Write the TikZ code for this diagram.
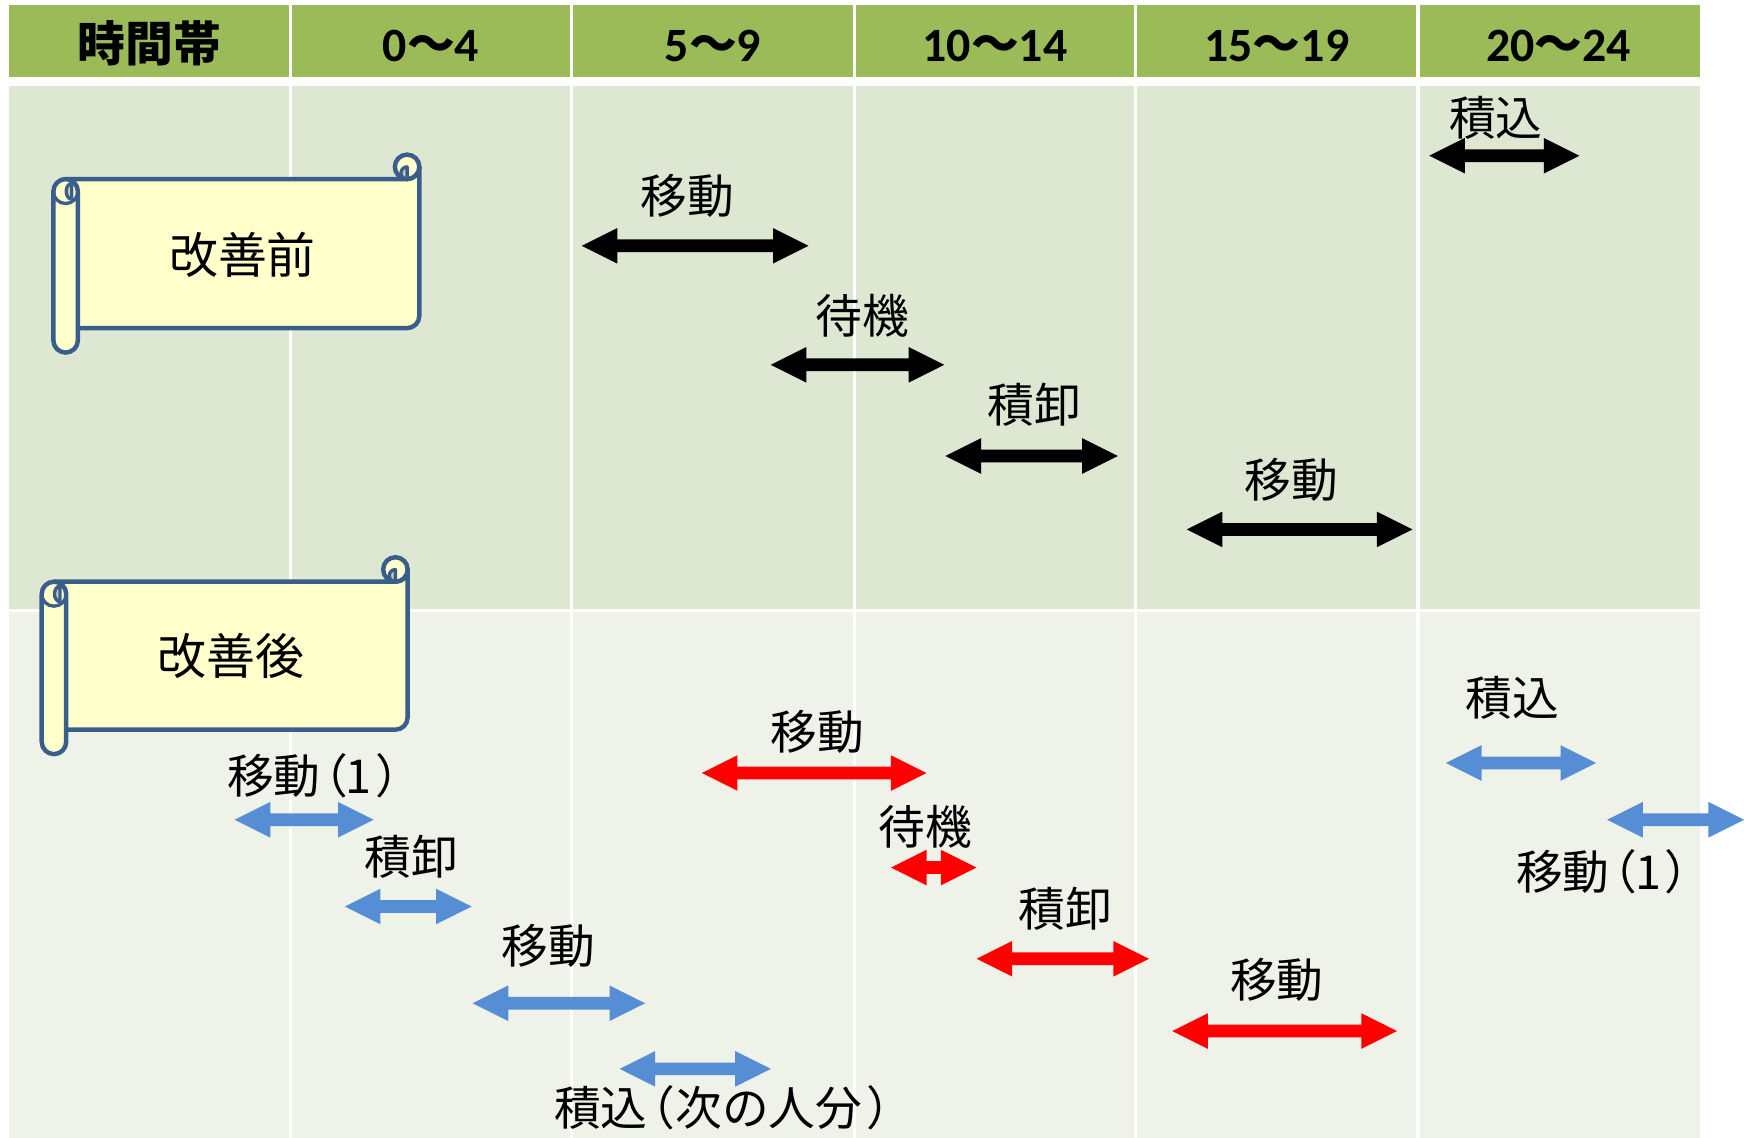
\documentclass[tikz,border=0pt]{standalone}
\usepackage{fontspec}
\newfontfamily\jp{Noto Sans CJK JP}
\newfontfamily\hdr{Carlito}
\definecolor{hdrgreen}{HTML}{9BBB59}
\definecolor{bandA}{HTML}{DEE7D2}
\definecolor{bandB}{HTML}{EFF2E9}
\definecolor{scrollyellow}{HTML}{FFFFCC}
\definecolor{scrollblue}{HTML}{3A5E8C}
\definecolor{curlbeige}{HTML}{CDCDA6}
\definecolor{arrblue}{HTML}{558ED5}
\definecolor{arrred}{HTML}{FF0000}
\tikzset{
  lbl/.style={font=\jp\fontsize{42}{46}\selectfont, inner sep=0pt, text=black},
  scrtxt/.style={font=\jp\fontsize{44}{48}\selectfont, inner sep=0pt, text=black},
  hd/.style={font=\fontsize{43}{47}\selectfont\bfseries, inner sep=0pt, text=black},
  scrl/.style={fill=scrollyellow, draw=scrollblue, line width=4pt, line join=round},
  scrlcurl/.style={fill=curlbeige, draw=scrollblue, line width=3pt, line join=round},
  scrlline/.style={draw=scrollblue, line width=3pt},
}
% double block arrow: colour, left x, right x, y
\newcommand\dblarrow[4]{%
  \fill[#1] (#2,#4) -- ({#2+32},{#4-16}) -- ({#2+32},{#4-5.7}) -- ({#3-32},{#4-5.7})
    -- ({#3-32},{#4-16}) -- (#3,#4) -- ({#3-32},{#4+16}) -- ({#3-32},{#4+5.7})
    -- ({#2+32},{#4+5.7}) -- ({#2+32},{#4+16}) -- cycle;}
% horizontal scroll: x0, y0 (top), x1, y1 (bottom)
\newcommand\scrollshape[4]{%
  \filldraw[scrl] ({#1+11},{#2+22}) -- ({#3-11},{#2+22})
     arc[start angle=90, end angle=0, radius=11] -- ({#3},{#4-33})
     arc[start angle=0, end angle=90, radius=11] -- ({#1+11},{#4-22}) -- cycle;
  \filldraw[scrl] ({#3-11},{#2+11}) circle[radius=11];
  \filldraw[scrlcurl] ({#3-11},{#2+11}) arc[start angle=-90, end angle=-270, radius=5.5] -- cycle;
  \filldraw[scrl, rounded corners=11pt] (#1,{#2+22}) rectangle ({#1+22},#4);
  \draw[scrlline] (#1,{#2+33}) arc[start angle=180, end angle=0, radius=11];
  \filldraw[scrlcurl] ({#1+16.5},{#2+26}) arc[start angle=-90, end angle=-270, x radius=5, y radius=7] -- cycle;
}
\newcommand\lpar[1]{\makebox[#1][l]{\kern-17pt（}}
\newcommand\rpar[1]{\makebox[#1][l]{\kern3.5pt）}}
\newcommand\moveone{移動\lpar{23pt}\makebox[23pt]{1}\rpar{29pt}}
\begin{document}
\begin{tikzpicture}[x=1pt,y=-1pt]
\useasboundingbox (0,0) rectangle (1568,1023);
\fill[white] (0,0) rectangle (1568,1023);
% table
\fill[hdrgreen] (8,4.5) rectangle (1528,69.5);
\fill[bandA] (8,77.3) rectangle (1528,549);
\fill[bandB] (8,549) rectangle (1528,1023);
\foreach \x in {261,514,768,1021,1275} \draw[white, line width=3pt] (\x,0) -- (\x,1023);
\draw[white, line width=2.5pt] (8,549) -- (1528,549);
% header
\node[hd] (h0) at (134.5,39) {\jp 時間帯};
\node[hd] (h1) at (387.5,41) {\hdr 0\jp ～\hdr 4};
\node[hd] (h2) at (641,41) {\hdr 5\jp ～\hdr 9};
\node[hd] (h3) at (894.5,41) {\hdr 10\jp ～\hdr 14};
\node[hd] (h4) at (1148,41) {\hdr 15\jp ～\hdr 19};
\node[hd] (h5) at (1401.5,41) {\hdr 20\jp ～\hdr 24};
% scrolls
\scrollshape{48}{139}{377}{317}
\node[scrtxt] (before) at (218,229) {改善前};
\scrollshape{37.5}{501}{366.5}{678}
\node[scrtxt] (after) at (208,590) {改善後};
% upper labels
\node[lbl] (u1) at (1345,106) {積込};
\node[lbl] (u2) at (618,176) {移動};
\node[lbl] (u3) at (775,284) {待機};
\node[lbl] (u4) at (930,364) {積卸};
\node[lbl] (u5) at (1161,431) {移動};
% lower labels
\node[lbl] (d1) at (1360,627) {積込};
\node[lbl, anchor=west] (d2) at (1363,784) {\moveone};
\node[lbl] (d3) at (735,658) {移動};
\node[lbl] (d4) at (832,743) {待機};
\node[lbl] (d5) at (958,817) {積卸};
\node[lbl] (d6) at (1148,881) {移動};
\node[lbl, anchor=west] (d7) at (204,697) {\moveone};
\node[lbl] (d8) at (370,770) {積卸};
\node[lbl] (d9) at (493,850) {移動};
\node[lbl, anchor=west] (d10) at (498,996) {積込\lpar{25pt}次の人分\rpar{26pt}};
% upper arrows
\dblarrow{black}{1285}{1420}{140}
\dblarrow{black}{523}{727}{221}
\dblarrow{black}{693}{849}{328}
\dblarrow{black}{850}{1005}{410}
\dblarrow{black}{1067}{1270}{476}
% lower arrows
\dblarrow{arrblue}{1300}{1435}{686}
\dblarrow{arrblue}{1445}{1568}{737}
\dblarrow{arrred}{631}{833}{695}
\dblarrow{arrred}{801}{878}{780}
\dblarrow{arrred}{878}{1033}{862}
\dblarrow{arrred}{1054}{1256}{927}
\dblarrow{arrblue}{211}{336}{737}
\dblarrow{arrblue}{310}{424}{815}
\dblarrow{arrblue}{425}{580}{902}
\dblarrow{arrblue}{557}{693}{961}
\end{tikzpicture}
\end{document}
